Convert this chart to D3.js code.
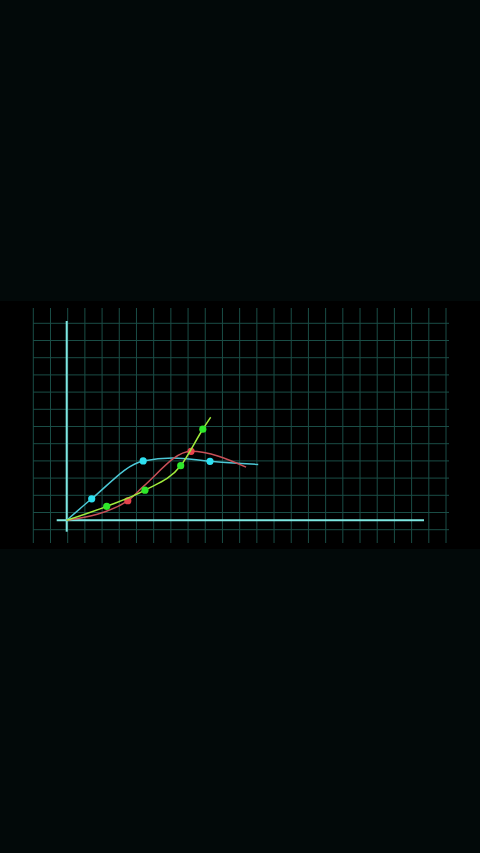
<!DOCTYPE html>
<html>
<head>
<meta charset="utf-8">
<script src="https://cdn.jsdelivr.net/npm/d3@7"></script>
<style>
html,body{margin:0;padding:0;background:#020909;}
svg{display:block;}
</style>
</head>
<body>
<svg id="chart" width="480" height="853"></svg>
<script>
// Data (x and y in chart units, origin at axis corner)
const cyanLineX = [0, 7.0, 21.4, 29.7, 40.1, 53.6];
const cyanLineY = [0, 10.8, 29.8, 31.3, 29.6, 28.0];
const cyanDotsX = [7.0, 21.4, 40.1];
const cyanDotsY = [10.8, 29.8, 29.6];

const redLineX = [0, 17.1, 21.4, 34.8, 50.2];
const redLineY = [0, 9.8, 16.9, 34.6, 26.7];
const redDotsX = [17.1, 34.8];
const redDotsY = [9.8, 34.6];

const greenLineX = [0, 11.2, 21.9, 31.9, 38.1, 40.3];
const greenLineY = [0, 7.0, 15.1, 27.4, 45.7, 51.7];
const greenDotsX = [11.2, 21.9, 31.9, 38.1];
const greenDotsY = [7.0, 15.1, 27.4, 45.7];

const gridCols = d3.range(0, 25);
const gridRows = d3.range(0, 13);

const svg = d3.select("#chart");

// black panel
svg.append("rect").attr("x", 0).attr("y", 301).attr("width", 480).attr("height", 248).attr("fill", "#000000");

const x = d3.scaleLinear().domain([0, 100]).range([66.7, 424]);
const y = d3.scaleLinear().domain([0, 100]).range([520.3, 321]);
const gx = d3.scaleLinear().domain([0, 24]).range([33.3, 446]);
const gy = d3.scaleLinear().domain([0, 12]).range([323.3, 529.7]);

const grid = svg.append("g").attr("stroke", "#1a4d46").attr("stroke-width", 1);
grid.selectAll("line.v").data(gridCols).join("line").attr("class", "v")
  .attr("x1", d => gx(d)).attr("x2", d => gx(d)).attr("y1", 308).attr("y2", 543);
grid.selectAll("line.h").data(gridRows).join("line").attr("class", "h")
  .attr("y1", d => gy(d)).attr("y2", d => gy(d)).attr("x1", 33).attr("x2", 449);

// axes
const axisColor = "#7ee8e2";
svg.append("line").attr("x1", x(0)).attr("x2", x(0)).attr("y1", 321).attr("y2", 531.7)
  .attr("stroke", axisColor).attr("stroke-width", 2);
svg.append("line").attr("x1", 56.7).attr("x2", 424).attr("y1", y(0)).attr("y2", y(0))
  .attr("stroke", axisColor).attr("stroke-width", 2);

const line = d3.line().x(d => x(d[0])).y(d => y(d[1])).curve(d3.curveMonotoneX);

function series(lx, ly, dx, dy, lineColor, dotColor) {
  svg.append("path").datum(lx.map((v, i) => [v, ly[i]]))
    .attr("d", line).attr("fill", "none").attr("stroke", lineColor).attr("stroke-width", 1.5);
  svg.append("g").selectAll("circle").data(dx.map((v, i) => [v, dy[i]])).join("circle")
    .attr("cx", d => x(d[0])).attr("cy", d => y(d[1])).attr("r", 3.6).attr("fill", dotColor);
}

series(cyanLineX, cyanLineY, cyanDotsX, cyanDotsY, "#4cc8d6", "#2ee0f0");
series(redLineX, redLineY, redDotsX, redDotsY, "#c85058", "#e8434c");
series(greenLineX, greenLineY, greenDotsX, greenDotsY, "#a0ec3c", "#2ee82a");
</script>
</body>
</html>
